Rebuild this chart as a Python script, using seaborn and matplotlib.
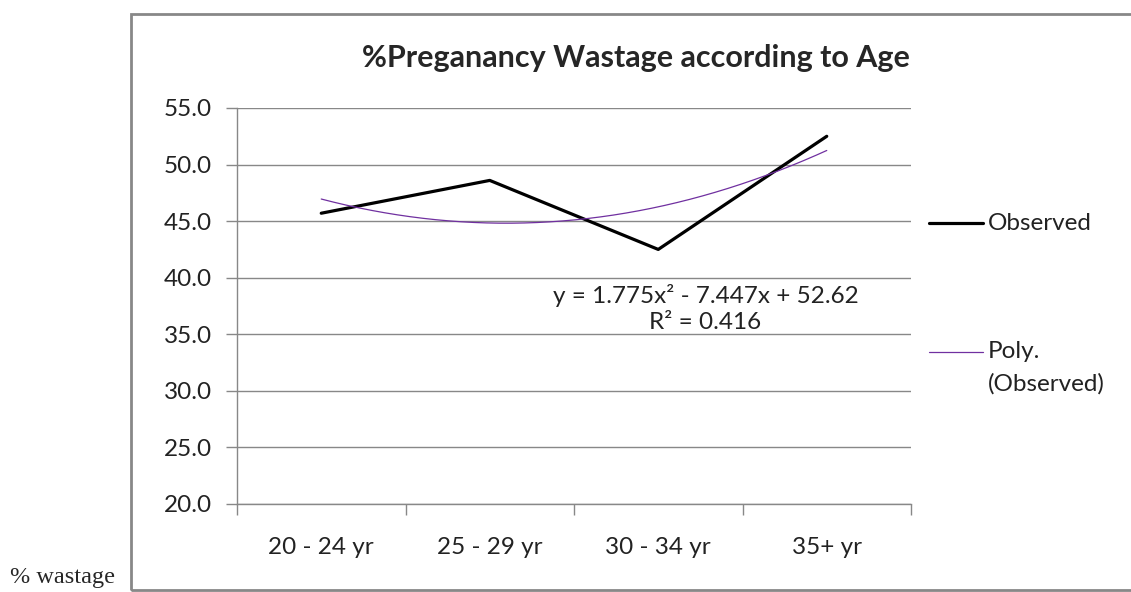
import numpy as np
import pandas as pd
import matplotlib.pyplot as plt
import seaborn as sns
from matplotlib.lines import Line2D
from matplotlib.patches import Rectangle

# data
age_groups = ["20 - 24 yr", "25 - 29 yr", "30 - 34 yr", "35+ yr"]
observed = [45.7, 48.6, 42.5, 52.5]
y_ticks = [20.0, 25.0, 30.0, 35.0, 40.0, 45.0, 50.0, 55.0]

sns.set_style("white")
plt.rcParams["font.family"] = ["Lato", "DejaVu Sans"]

df = pd.DataFrame({"pos": np.arange(len(age_groups)), "value": observed})

# 2nd order polynomial trendline (Excel style, x = 1..n)
coef = np.polyfit(df["pos"] + 1, df["value"], 2)
grid = np.linspace(0, len(age_groups) - 1, 200)
trend = pd.DataFrame({"pos": grid, "value": np.polyval(coef, grid + 1)})

fig = plt.figure(figsize=(11.31, 5.92), dpi=100)
ax = fig.add_axes([237 / 1131, 1 - 504 / 592, (911 - 237) / 1131, (504 - 108) / 592])

sns.lineplot(data=df, x="pos", y="value", color="black", linewidth=2.3, ax=ax)
sns.lineplot(data=trend, x="pos", y="value", color="#7030A0", linewidth=0.9, ax=ax)

ax.set_xlim(-0.5, 3.5)
ax.set_ylim(20, 55)
ax.set_yticks(y_ticks)
ax.set_yticklabels([f"{v:.1f}" for v in y_ticks])
ax.set_xticks(np.arange(len(age_groups)))
ax.set_xticklabels(age_groups)
ax.set_xticks(np.arange(-0.5, 4, 1), minor=True)
ax.tick_params(axis="x", which="major", bottom=True, length=0, pad=24, labelsize=17.5,
               colors="#222222")
ax.tick_params(axis="x", which="minor", bottom=True, length=8, color="#888888", width=1)
ax.tick_params(axis="y", left=True, length=8, color="#888888", width=1, labelsize=17.5,
               labelcolor="#222222", pad=10)
ax.grid(axis="y", color="#888888", linewidth=1)
ax.set_axisbelow(True)
for s in ["top", "right"]:
    ax.spines[s].set_visible(False)
for s in ["left", "bottom"]:
    ax.spines[s].set_color("#888888")
    ax.spines[s].set_linewidth(1)
ax.set_xlabel("")
ax.set_ylabel("")

# equation label
ax.text(2.28, 38.46, "y = 1.775x² - 7.447x + 52.62", ha="center", va="center",
        fontsize=17.5, color="#222222")
ax.text(2.28, 36.07, "R² = 0.416", ha="center", va="center", fontsize=17.5, color="#222222")

# title
fig.text(636 / 1131, 1 - 58 / 592, "%Preganancy Wastage according to Age", ha="center",
         va="center", fontsize=22, fontweight="bold")

# legend drawn by hand
fig.add_artist(Line2D([929 / 1131, 983 / 1131], [1 - 223 / 592] * 2, color="black",
                      linewidth=2.3))
fig.text(988 / 1131, 1 - 223 / 592, "Observed", va="center", fontsize=17.5, color="#222222")
fig.add_artist(Line2D([929 / 1131, 983 / 1131], [1 - 352 / 592] * 2, color="#7030A0",
                      linewidth=0.9))
fig.text(988 / 1131, 1 - 352 / 592, "Poly.", va="center", fontsize=17.5, color="#222222")
fig.text(988 / 1131, 1 - 384 / 592, "(Observed)", va="center", fontsize=17.5, color="#222222")

# chart frame
fig.add_artist(Rectangle((131 / 1131, 1 - 590 / 592), 1.0, (590 - 14) / 592, fill=False,
                         edgecolor="#888888", linewidth=2, transform=fig.transFigure))

fig.text(10 / 1131, 1 - 578 / 592, "% wastage", va="center", fontsize=17.5,
         family=["Liberation Serif", "DejaVu Serif"])

fig.savefig("out.png", dpi=100)
